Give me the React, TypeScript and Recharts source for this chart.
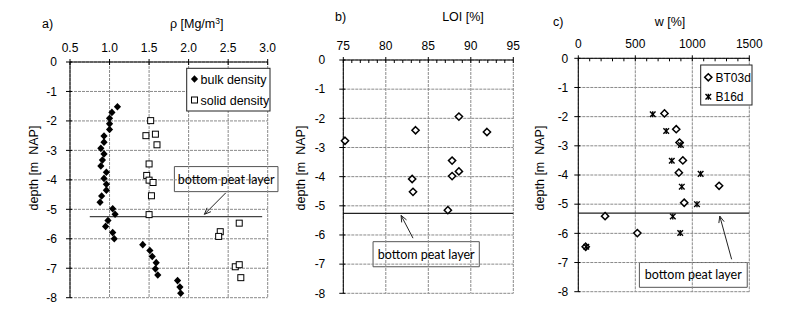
import React from 'react';
import { ScatterChart, Scatter, XAxis, YAxis, ReferenceLine, ReferenceArea } from 'recharts';

const FONT = '"Liberation Sans", Arial, sans-serif';
const NOTE_FONT = 'Lato, "Open Sans", sans-serif';

// shared depth axis
const depthTicks = [0, -1, -2, -3, -4, -5, -6, -7, -8];

// a) density
const rhoTicks = [0.5, 1.0, 1.5, 2.0, 2.5, 3.0];
const bulkRho = [1.1, 1.03, 1.0, 1.0, 1.0, 0.93, 0.93, 0.89, 0.93, 0.91, 0.89, 0.96, 0.93, 0.96, 0.96, 0.9, 0.88, 1.04, 1.07, 0.98, 0.95, 1.04, 1.06, 1.42, 1.51, 1.54, 1.59, 1.58, 1.61, 1.86, 1.89, 1.9];
const bulkDepth = [-1.52, -1.71, -1.91, -2.1, -2.29, -2.51, -2.72, -2.93, -3.12, -3.33, -3.53, -3.74, -3.95, -4.15, -4.35, -4.55, -4.76, -4.98, -5.17, -5.38, -5.58, -5.79, -6.0, -6.2, -6.4, -6.6, -6.81, -7.02, -7.23, -7.42, -7.64, -7.85];
const solidRho = [1.52, 1.46, 1.58, 1.6, 1.5, 1.47, 1.5, 1.55, 1.53, 1.5, 2.64, 2.4, 2.38, 2.59, 2.64, 2.66];
const solidDepth = [-1.99, -2.5, -2.45, -2.81, -3.46, -3.85, -4.01, -4.09, -4.54, -5.18, -5.47, -5.76, -5.92, -6.95, -6.88, -7.32];

// b) loss on ignition
const loiTicks = [75, 80, 85, 90, 95];
const loiMinorTicks = [75, 76, 77, 78, 79, 80, 81, 82, 83, 84, 85, 86, 87, 88, 89, 90, 91, 92, 93, 94, 95];
const loiValues = [75.2, 83.5, 88.6, 91.9, 87.8, 83.1, 87.8, 88.6, 83.2, 87.3];
const loiDepth = [-2.77, -2.41, -1.94, -2.47, -3.45, -4.08, -3.98, -3.82, -4.52, -5.15];

// c) water content
const wTicks = [0, 500, 1000, 1500];
const wMinorTicks = [0, 100, 200, 300, 400, 500, 600, 700, 800, 900, 1000, 1100, 1200, 1300, 1400, 1500];
const bt03dW = [756, 859, 888, 917, 882, 1235, 929, 235, 518, 65];
const bt03dDepth = [-1.89, -2.43, -2.89, -3.5, -3.92, -4.37, -4.95, -5.41, -5.99, -6.46];
const b16dW = [653, 771, 900, 820, 1073, 908, 1041, 829, 894, 70];
const b16dDepth = [-1.92, -2.49, -2.97, -3.51, -3.96, -4.4, -5.0, -5.42, -5.99, -6.46];

const zip = (xs: number[], ys: number[]) => xs.map((x, i) => ({ x, y: ys[i] }));

const GRID = '#8a8a8a';

const FilledDiamond = ({ cx, cy }: any) => (
  <path d={`M${cx},${cy - 3.8}L${cx + 3.6},${cy}L${cx},${cy + 3.8}L${cx - 3.6},${cy}Z`} fill="#000" />
);
const OpenDiamond = ({ cx, cy }: any) => (
  <path d={`M${cx},${cy - 3.6}L${cx + 3.6},${cy}L${cx},${cy + 3.6}L${cx - 3.6},${cy}Z`} fill="#fff" stroke="#000" strokeWidth={1.5} />
);
const OpenSquare = ({ cx, cy }: any) => (
  <rect x={cx - 3} y={cy - 3} width={6} height={6} fill="#fff" stroke="#000" strokeWidth={1} />
);
const Star = ({ cx, cy }: any) => (
  <g stroke="#000" strokeWidth={1.4}>
    <line x1={cx - 2.8} y1={cy - 2.8} x2={cx + 2.8} y2={cy + 2.8} />
    <line x1={cx - 2.8} y1={cy + 2.8} x2={cx + 2.8} y2={cy - 2.8} />
    <line x1={cx} y1={cy - 3} x2={cx} y2={cy + 3} />
  </g>
);

// annotation arrow, drawn from the box towards the peat line
const Arrow = ({ x1, y1, x2, y2 }: any) => {
  const ang = Math.atan2(y2 - y1, x2 - x1);
  const L = 7;
  const a1 = ang + Math.PI - 0.4;
  const a2 = ang + Math.PI + 0.4;
  return (
    <g stroke="#222" strokeWidth={1} fill="none">
      <line x1={x1} y1={y1} x2={x2} y2={y2} />
      <polyline points={`${x2 + L * Math.cos(a1)},${y2 + L * Math.sin(a1)} ${x2},${y2} ${x2 + L * Math.cos(a2)},${y2 + L * Math.sin(a2)}`} />
    </g>
  );
};

const topTick = (majors: number[], fmt: (v: number) => string) => (p: any) => {
  const v = p.payload.value;
  const major = majors.some((m) => Math.abs(m - v) < 1e-9);
  return (
    <g>
      {major ? (
        <line x1={p.x} x2={p.x} y1={p.y - 3} y2={p.y + 3} stroke="#000" />
      ) : (
        <line x1={p.x} x2={p.x} y1={p.y} y2={p.y + 3} stroke="#000" />
      )}
      {major && (
        <text x={p.x} y={p.y - 10} textAnchor="middle" fontSize={12} fontFamily={FONT} fill="#000">
          {fmt(v)}
        </text>
      )}
    </g>
  );
};

const leftTick = (gap: number) => (p: any) => (
  <g>
    <line x1={p.x - 4} x2={p.x + 2} y1={p.y} y2={p.y} stroke="#000" />
    <text x={p.x - gap} y={p.y + 4.3} textAnchor="end" fontSize={12} fontFamily={FONT} fill="#000">
      {String(p.payload.value)}
    </text>
  </g>
);

const noteLabel = { value: 'bottom peat layer', position: 'center' as const, fontSize: 12.5, fontFamily: NOTE_FONT, fill: '#000' };

const gridLines = (xs: number[]) => [
  ...depthTicks.map((d) => <ReferenceLine key={`h${d}`} y={d} stroke={GRID} strokeDasharray="3 1" />),
  ...xs.map((v) => <ReferenceLine key={`v${v}`} x={v} stroke={GRID} strokeDasharray="3 1" />),
];

export default function App() {
  return (
    <div style={{ position: 'absolute', left: 0, top: 0, width: 788, height: 314, background: '#fff' }}>
      {/* a) */}
      <div style={{ position: 'absolute', left: 0, top: 0 }}>
        <ScatterChart width={280} height={314} margin={{ top: 32, left: 40, right: 12.3, bottom: 16.3 }}>
          <XAxis type="number" dataKey="x" orientation="top" domain={[0.5, 3]} ticks={rhoTicks} interval={0}
            height={30} tickSize={0} tickMargin={0} tickLine={false} axisLine={{ stroke: '#000' }}
            tick={topTick(rhoTicks, (v) => v.toFixed(1))} />
          <YAxis type="number" dataKey="y" domain={[-8, 0]} ticks={depthTicks} interval={0}
            width={30} tickSize={0} tickMargin={0} tickLine={false} axisLine={{ stroke: '#000' }}
            tick={leftTick(13)} />
          {gridLines(rhoTicks)}
          <ReferenceArea x1={1.82} x2={3.13} y1={-4.4} y2={-3.55} fill="#fff" fillOpacity={1} stroke="#555" ifOverflow="visible" label={noteLabel} />
          <ReferenceLine segment={[{ x: 0.75, y: -5.25 }, { x: 2.93, y: -5.25 }]} stroke="#444" strokeWidth={1.3} />
          <ReferenceLine segment={[{ x: 2.47, y: -4.44 }, { x: 2.2, y: -5.17 }]} shape={<Arrow />} />
          <Scatter data={zip(bulkRho, bulkDepth)} shape={<FilledDiamond />} isAnimationActive={false} />
          <Scatter data={zip(solidRho, solidDepth)} shape={<OpenSquare />} isAnimationActive={false} />
        </ScatterChart>
      </div>

      {/* b) */}
      <div style={{ position: 'absolute', left: 290, top: 0 }}>
        <ScatterChart width={240} height={314} margin={{ top: 30, left: 23.3, right: 16.7, bottom: 20.7 }}>
          <XAxis type="number" dataKey="x" orientation="top" domain={[75, 95]} ticks={loiMinorTicks} interval={0}
            height={30} tickSize={0} tickMargin={0} tickLine={false} axisLine={{ stroke: '#000' }}
            tick={topTick(loiTicks, (v) => String(v))} />
          <YAxis type="number" dataKey="y" domain={[-8, 0]} ticks={depthTicks} interval={0}
            width={30} tickSize={0} tickMargin={0} tickLine={false} axisLine={{ stroke: '#000' }}
            tick={leftTick(18)} />
          {gridLines(loiTicks)}
          <ReferenceLine segment={[{ x: 75, y: -5.26 }, { x: 95, y: -5.26 }]} stroke="#222" strokeWidth={1.3} />
          <ReferenceArea x1={78.5} x2={91.0} y1={-7.09} y2={-6.23} fill="#fff" fillOpacity={1} stroke="#555" ifOverflow="visible" label={noteLabel} />
          <ReferenceLine segment={[{ x: 83.2, y: -6.11 }, { x: 81.8, y: -5.33 }]} shape={<Arrow />} />
          <Scatter data={zip(loiValues, loiDepth)} shape={<OpenDiamond />} isAnimationActive={false} />
        </ScatterChart>
      </div>

      {/* c) */}
      <div style={{ position: 'absolute', left: 535, top: 0 }}>
        <ScatterChart width={253} height={314} margin={{ top: 28.3, left: 13.3, right: 38.7, bottom: 22.3 }}>
          <XAxis type="number" dataKey="x" orientation="top" domain={[0, 1500]} ticks={wMinorTicks} interval={0}
            height={30} tickSize={0} tickMargin={0} tickLine={false} axisLine={{ stroke: '#000' }}
            tick={topTick(wTicks, (v) => String(v))} />
          <YAxis type="number" dataKey="y" domain={[-8, 0]} ticks={depthTicks} interval={0}
            width={30} tickSize={0} tickMargin={0} tickLine={false} axisLine={{ stroke: '#000' }}
            tick={leftTick(10)} />
          {gridLines(wTicks)}
          <ReferenceLine segment={[{ x: 0, y: -5.31 }, { x: 1500, y: -5.31 }]} stroke="#222" strokeWidth={1.3} />
          <ReferenceArea x1={536} x2={1482} y1={-7.85} y2={-7.0} fill="#fff" fillOpacity={1} stroke="#555" ifOverflow="visible" label={noteLabel} />
          <ReferenceLine segment={[{ x: 1345, y: -6.89 }, { x: 1241, y: -5.41 }]} shape={<Arrow />} />
          <Scatter data={zip(bt03dW, bt03dDepth)} shape={<OpenDiamond />} isAnimationActive={false} />
          <Scatter data={zip(b16dW, b16dDepth)} shape={<Star />} isAnimationActive={false} />
        </ScatterChart>
      </div>

      {/* titles and legends */}
      <svg width={788} height={314} style={{ position: 'absolute', left: 0, top: 0, pointerEvents: 'none' }}>
        <g fontFamily={FONT} fontSize={12.5} fill="#000">
          <text x={42} y={27.5}>a)</text>
          <text x={196.7} y={28} textAnchor="middle">ρ [Mg/m<tspan dy={-4} fontSize={8.5}>3</tspan><tspan dy={4}>]</tspan></text>
          <text x={335} y={21}>b)</text>
          <text x={463} y={21} textAnchor="middle">LOI [%]</text>
          <text x={553} y={26}>c)</text>
          <text x={670} y={26} textAnchor="middle">w [%]</text>
          <text transform="translate(37.5,168) rotate(-90)" textAnchor="middle" style={{ whiteSpace: 'pre' }}>depth [m  NAP]</text>
          <text transform="translate(304.5,168) rotate(-90)" textAnchor="middle" style={{ whiteSpace: 'pre' }}>depth [m  NAP]</text>
          <text transform="translate(543.5,168) rotate(-90)" textAnchor="middle" style={{ whiteSpace: 'pre' }}>depth [m  NAP]</text>
        </g>
        <rect x={186.7} y={68.3} width={83.3} height={42.7} fill="#fff" stroke="#222" />
        <FilledDiamond cx={194.5} cy={79} />
        <OpenSquare cx={194.5} cy={100} />
        <g fontFamily={FONT} fontSize={12.5} fill="#000">
          <text x={200.5} y={83.5}>bulk density</text>
          <text x={200.5} y={104.5}>solid density</text>
        </g>
        <rect x={700.7} y={65} width={51.3} height={40} fill="#fff" stroke="#222" />
        <OpenDiamond cx={708.3} cy={77.3} />
        <Star cx={708.3} cy={96.7} />
        <g fontFamily={FONT} fontSize={12} fill="#000">
          <text x={715.5} y={81.6}>BT03d</text>
          <text x={715.5} y={101}>B16d</text>
        </g>
      </svg>
    </div>
  );
}
